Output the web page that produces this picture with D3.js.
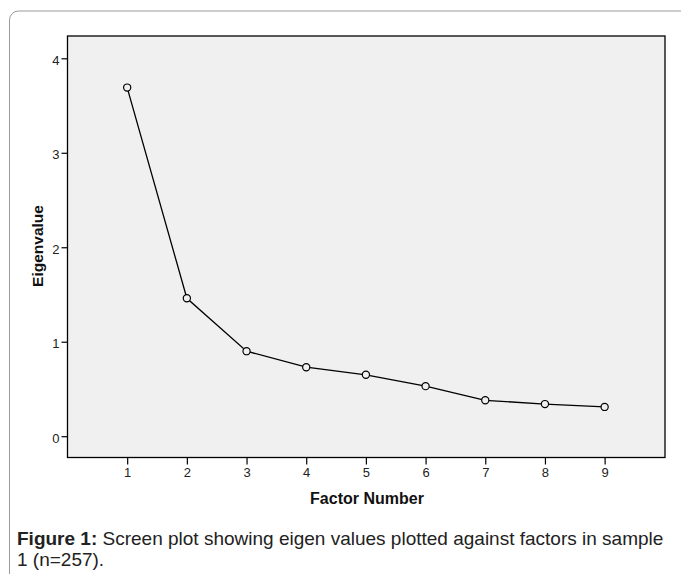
<!DOCTYPE html>
<html>
<head>
<meta charset="utf-8">
<script src="https://cdn.jsdelivr.net/npm/d3@7"></script>
<style>
  html, body { margin: 0; padding: 0; background: #fff; }
  svg { display: block; }
</style>
</head>
<body>
<svg id="chart" width="681" height="574"></svg>
<script>
// ---- data ----
const factors = [1, 2, 3, 4, 5, 6, 7, 8, 9];
const eigenvalues = [3.69, 1.46, 0.90, 0.73, 0.65, 0.53, 0.38, 0.34, 0.31];
const yTicks = [0, 1, 2, 3, 4];
const xTicks = [1, 2, 3, 4, 5, 6, 7, 8, 9];
const xLabel = "Factor Number";
const yLabel = "Eigenvalue";
const captionBold = "Figure 1:";
const captionLine1 = " Screen plot showing eigen values plotted against factors in sample";
const captionLine2 = "1 (n=257).";

const svg = d3.select("#chart");
const font = "'Liberation Sans', Arial, Helvetica, sans-serif";

// outer rounded frame (extends beyond right/bottom edges)
svg.append("rect")
  .attr("x", 9.5).attr("y", 11)
  .attr("width", 720).attr("height", 620)
  .attr("rx", 9).attr("ry", 9)
  .attr("fill", "#fff")
  .attr("stroke", "#9a9a9a")
  .attr("stroke-width", 1);

const plot = { left: 67.5, top: 36, right: 665, bottom: 457.5 };

const x = d3.scaleLinear().domain([0, 10]).range([plot.left, 664.3]);
const y = d3.scaleLinear().domain([0, 4]).range([436.2, 58.3]);

// plot background
svg.append("rect")
  .attr("x", plot.left).attr("y", plot.top)
  .attr("width", plot.right - plot.left).attr("height", plot.bottom - plot.top)
  .attr("fill", "#f0f0f0")
  .attr("stroke", "#000")
  .attr("stroke-width", 1.3);

// y axis
const yAxis = d3.axisLeft(y).tickValues(yTicks).tickSize(6).tickPadding(2).tickFormat(d3.format("d"));
const gy = svg.append("g").attr("transform", `translate(${plot.left},0)`).call(yAxis);
gy.select(".domain").remove();
gy.selectAll(".tick line").attr("stroke", "#000").attr("stroke-width", 1.2);
gy.selectAll(".tick text")
  .attr("font-family", font).attr("font-size", 13).attr("fill", "#222")
  .attr("dy", "0.45em");

// x axis
const xAxis = d3.axisBottom(x).tickValues(xTicks).tickSize(7).tickPadding(3).tickFormat(d3.format("d"));
const gx = svg.append("g").attr("transform", `translate(0,${plot.bottom})`).call(xAxis);
gx.select(".domain").remove();
gx.selectAll(".tick line").attr("stroke", "#000").attr("stroke-width", 1.2);
gx.selectAll(".tick text")
  .attr("font-family", font).attr("font-size", 13).attr("fill", "#222");

// axis titles
svg.append("text")
  .attr("x", 367).attr("y", 504)
  .attr("text-anchor", "middle")
  .attr("font-family", font).attr("font-size", 16).attr("font-weight", "bold")
  .attr("fill", "#111")
  .text(xLabel);

svg.append("text")
  .attr("transform", `translate(43,246) rotate(-90)`)
  .attr("text-anchor", "middle")
  .attr("font-family", font).attr("font-size", 15.5).attr("font-weight", "bold")
  .attr("fill", "#111")
  .text(yLabel);

// data line
const pts = factors.map((f, i) => [f, eigenvalues[i]]);
svg.append("path")
  .datum(pts)
  .attr("fill", "none")
  .attr("stroke", "#000")
  .attr("stroke-width", 1.3)
  .attr("d", d3.line().x(d => x(d[0])).y(d => y(d[1])));

svg.selectAll("circle.pt")
  .data(pts)
  .join("circle")
  .attr("class", "pt")
  .attr("cx", d => x(d[0]))
  .attr("cy", d => y(d[1]))
  .attr("r", 3.6)
  .attr("fill", "#f0f0f0")
  .attr("stroke", "#000")
  .attr("stroke-width", 1.2);

// caption
const cap = svg.append("text")
  .attr("x", 17).attr("y", 545)
  .attr("font-family", font).attr("font-size", 19)
  .attr("fill", "#222");
cap.append("tspan").attr("font-weight", "bold").text(captionBold);
cap.append("tspan").text(captionLine1);

svg.append("text")
  .attr("x", 17).attr("y", 566)
  .attr("font-family", font).attr("font-size", 19)
  .attr("fill", "#222")
  .text(captionLine2);
</script>
</body>
</html>
